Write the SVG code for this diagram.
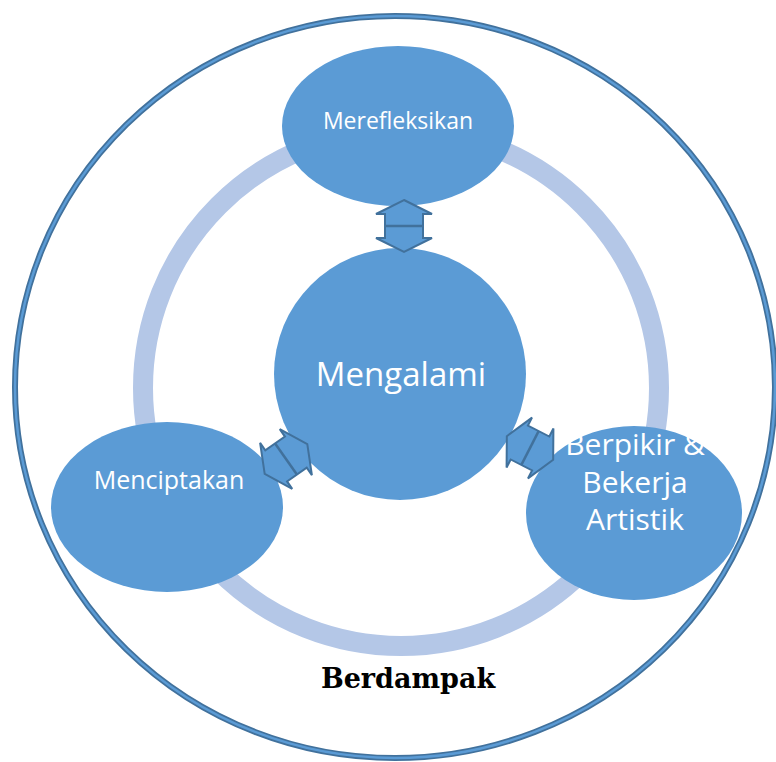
<svg xmlns="http://www.w3.org/2000/svg" width="776" height="762" viewBox="0 0 776 762">
<defs>
<style>
.node{fill:#5B9BD5;}
.lbl{fill:#FFFFFF;font-family:"Open Sans","Noto Sans",sans-serif;text-anchor:middle;}
.arr{fill:#5B9BD5;stroke:#41719C;stroke-width:2;stroke-linejoin:miter;}
.mid{stroke:#41719C;stroke-width:2.5;}
</style>
<polygon id="dbl" points="0,-26 28,-12 19,-12 19,12 28,12 0,26 -28,12 -19,12 -19,-12 -28,-12"/>
</defs>
<rect width="776" height="762" fill="#FFFFFF"/>
<g id="outer">
<ellipse cx="395" cy="387" rx="380" ry="371" fill="none" stroke="#41719C" stroke-width="6"/>
<ellipse cx="395" cy="387" rx="380" ry="371" fill="none" stroke="#5B9BD5" stroke-width="2.5"/>
</g>
<g id="ring">
<circle cx="401" cy="388" r="258" fill="none" stroke="#B4C7E7" stroke-width="20"/>
</g>
<g id="node-merefleksikan">
<ellipse class="node" cx="398" cy="126" rx="116" ry="80"/>
<text class="lbl" x="398" y="129" font-size="23">Merefleksikan</text>
</g>
<g id="node-mengalami">
<circle class="node" cx="400" cy="374" r="126"/>
<text class="lbl" x="401" y="386" font-size="33">Mengalami</text>
</g>
<g id="node-menciptakan">
<ellipse class="node" cx="167" cy="507" rx="116" ry="85"/>
<text class="lbl" x="169" y="489" font-size="25">Menciptakan</text>
</g>
<g id="node-berpikir">
<ellipse class="node" cx="634" cy="513" rx="108" ry="87"/>
<text class="lbl" font-size="30"><tspan x="635" y="455">Berpikir &amp;</tspan><tspan x="635" y="493">Bekerja</tspan><tspan x="635" y="530">Artistik</tspan></text>
</g>
<g id="connectors">
<g transform="translate(404,226)"><use href="#dbl" class="arr"/><line class="mid" x1="-19" y1="0" x2="19" y2="0"/></g>
<g transform="translate(286,459) rotate(55)"><use href="#dbl" class="arr"/><line class="mid" x1="-19" y1="0" x2="19" y2="0"/></g>
<g transform="translate(530,448) rotate(-63)"><use href="#dbl" class="arr"/><line class="mid" x1="-19" y1="0" x2="19" y2="0"/></g>
</g>
<g id="caption">
<text x="408" y="688" font-family="'DejaVu Serif','Liberation Serif',serif" font-weight="bold" font-size="27" text-anchor="middle" fill="#000000">Berdampak</text>
</g>
</svg>
